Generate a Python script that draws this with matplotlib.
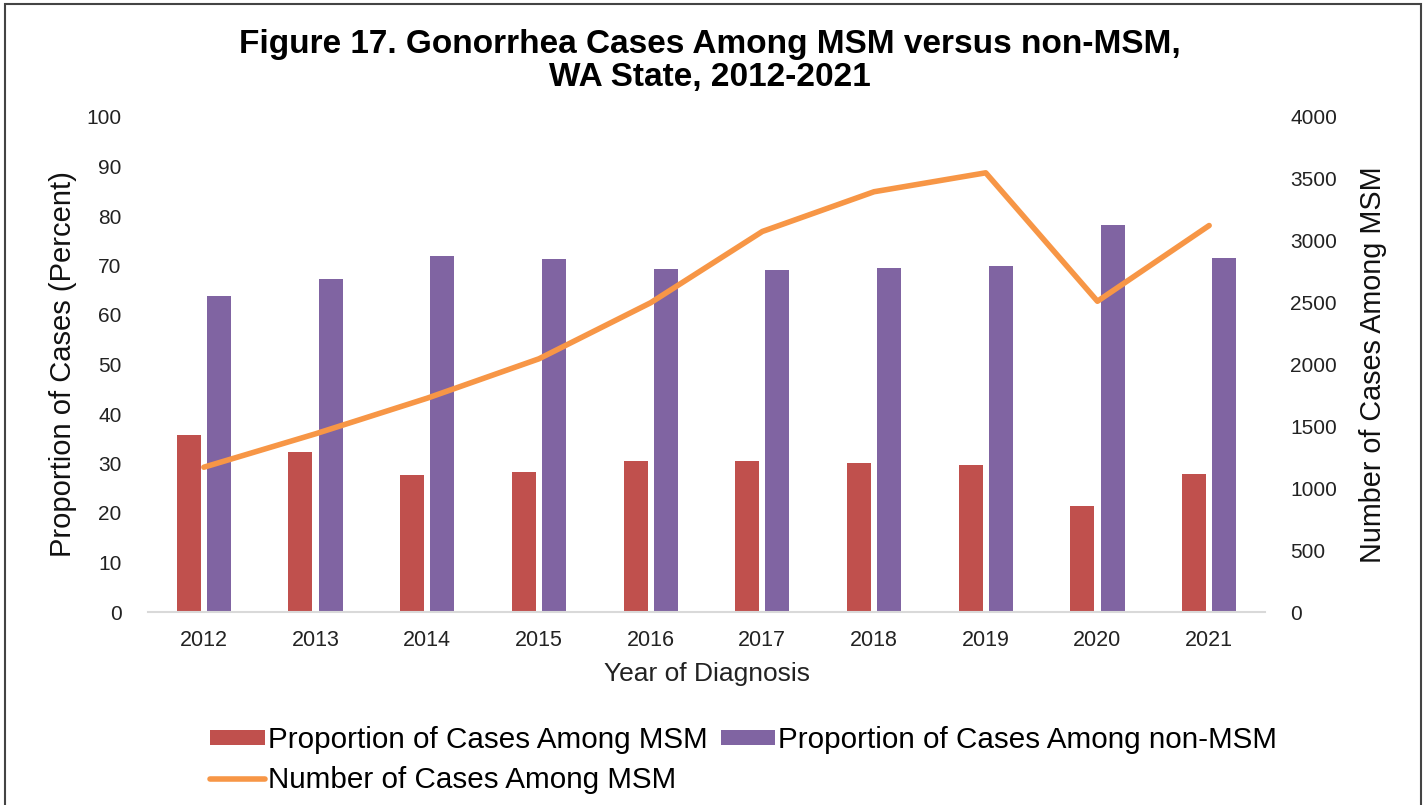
import matplotlib
matplotlib.use("Agg")
import matplotlib.pyplot as plt
import numpy as np
from matplotlib.patches import Rectangle, Patch
from matplotlib.lines import Line2D

plt.rcParams['font.family'] = ['Liberation Sans', 'DejaVu Sans']

years = ["2012", "2013", "2014", "2015", "2016", "2017", "2018", "2019", "2020", "2021"]
pct_msm = [35.7, 32.4, 27.7, 28.2, 30.5, 30.5, 30.1, 29.7, 21.5, 27.9]
pct_non_msm = [63.9, 67.2, 72.0, 71.4, 69.2, 69.1, 69.5, 69.9, 78.1, 71.6]
num_msm = [1170, 1440, 1728, 2046, 2499, 3075, 3396, 3549, 2511, 3123]

red = "#C0504D"
purple = "#8064A2"
orange = "#F79646"

fig = plt.figure(figsize=(14.27, 8.05), dpi=100)
ax = fig.add_axes([148/1427, (805-612)/805, (1265-148)/1427, (612-117)/805])
ax2 = ax.twinx()

x = np.arange(len(years))
w = 0.215
off = 0.135
ax.bar(x - off, pct_msm, width=w, color=red, zorder=2)
ax.bar(x + off, pct_non_msm, width=w, color=purple, zorder=2)
ax2.plot(x, num_msm, color=orange, lw=4, solid_capstyle='round', solid_joinstyle='round')

ax.set_xlim(-0.5, len(years) - 0.5)
ax.set_ylim(0, 100)
ax.set_yticks(np.arange(0, 101, 10))
ax2.set_ylim(0, 4000)
ax2.set_yticks(np.arange(0, 4001, 500))
ax.set_xticks(x)
ax.set_xticklabels(years)

for a in (ax, ax2):
    for s in a.spines.values():
        s.set_visible(False)
    a.tick_params(length=0, labelsize=15, colors="#222222")
ax.spines['bottom'].set_visible(True)
ax.spines['bottom'].set_color("#D9D9D9")
ax.spines['bottom'].set_linewidth(1.5)
ax.tick_params(axis='y', pad=19)
ax2.tick_params(axis='y', pad=18)
ax.tick_params(axis='x', pad=13, labelsize=15.5)

ax.set_ylabel("Proportion of Cases (Percent)", fontsize=21, color="#111111", labelpad=7)
ax2.set_ylabel("Number of Cases Among MSM", fontsize=20.7, color="#111111", labelpad=16)
ax.set_xlabel("Year of Diagnosis", fontsize=19, color="#222222", labelpad=8)

fig.text(0.4975, 1 - 61/805, "Figure 17. Gonorrhea Cases Among MSM versus non-MSM,\nWA State, 2012-2021",
         ha='center', va='center', fontsize=24, fontweight='bold', linespacing=1.12)

handles = [Patch(facecolor=red), Line2D([0], [0], color=orange, lw=4, solid_capstyle='round'),
           Patch(facecolor=purple)]
labels = ["Proportion of Cases Among MSM", "Number of Cases Among MSM",
          "Proportion of Cases Among non-MSM"]
fig.legend(handles, labels, loc='upper left', bbox_to_anchor=(210/1427, 1 - 726/805),
           ncol=2, frameon=False, fontsize=21.3, handlelength=1.85, handleheight=0.45,
           handletextpad=0.1, columnspacing=0.45, labelspacing=0.4, borderpad=0, borderaxespad=0)

fig.patches.append(Rectangle((5/1427, -0.05), (1421-5)/1427, 1.05 - 4/805, transform=fig.transFigure,
                             fill=False, edgecolor="#444444", lw=1.5))

fig.savefig("out.png", dpi=100)
